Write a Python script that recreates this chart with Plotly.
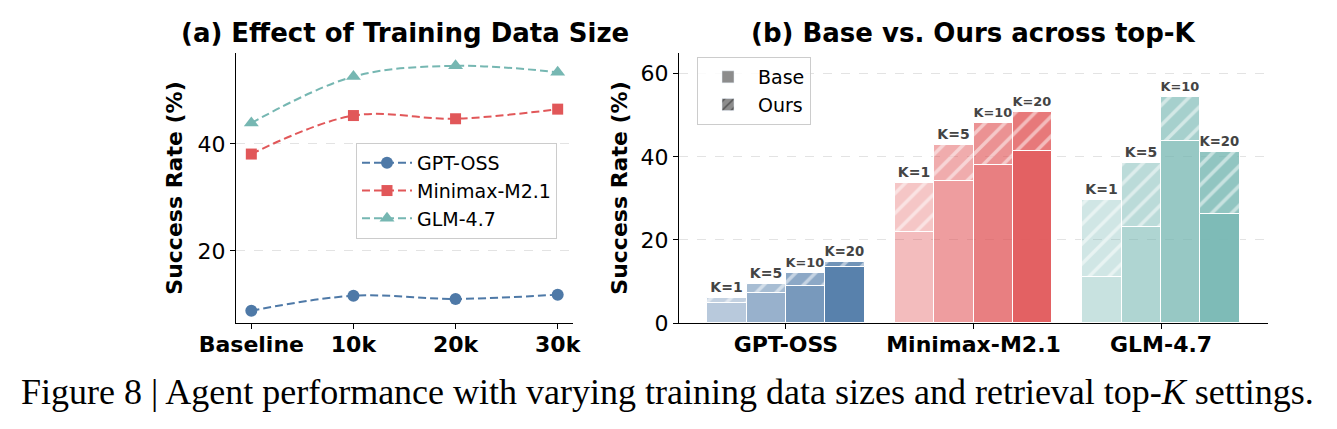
import plotly.graph_objects as go

# ---------- data ----------
sizes = ["Baseline", "10k", "20k", "30k"]
gpt_oss_sizes = [8.8, 11.6, 11.0, 11.8]
minimax_sizes = [38.1, 45.3, 44.7, 46.5]
glm_sizes = [43.9, 52.6, 54.6, 53.4]

models = ["GPT-OSS", "Minimax-M2.1", "GLM-4.7"]
k_labels = ["K=1", "K=5", "K=10", "K=20"]
base_vals = {
    "GPT-OSS": [4.7, 7.2, 8.9, 13.6],
    "Minimax-M2.1": [22.0, 34.3, 38.0, 41.5],
    "GLM-4.7": [11.0, 23.0, 43.7, 26.3],
}
ours_vals = {
    "GPT-OSS": [6.0, 9.4, 12.1, 14.6],
    "Minimax-M2.1": [33.8, 42.9, 48.1, 50.8],
    "GLM-4.7": [29.6, 38.6, 54.4, 41.2],
}

colors = {"GPT-OSS": (78, 121, 167), "Minimax-M2.1": (225, 87, 89), "GLM-4.7": (118, 183, 178)}
alphas = [0.40, 0.58, 0.76, 0.94]
W, H = 1337, 429


def rgba(c, a):
    return f"rgba({c[0]},{c[1]},{c[2]},{a})"


fig = go.Figure()

# ---------- panel (a) ----------
line_specs = [
    ("GPT-OSS", gpt_oss_sizes, "circle", 12),
    ("Minimax-M2.1", minimax_sizes, "square", 11),
    ("GLM-4.7", glm_sizes, "triangle-up", 13),
]
for name, vals, sym, ms in line_specs:
    fig.add_trace(go.Scatter(
        x=list(range(len(sizes))), y=vals, name=name, mode="lines+markers",
        line=dict(color=rgba(colors[name], 1), width=2, dash="8px,4px", shape="spline", smoothing=1.0),
        marker=dict(symbol=sym, size=ms, color=rgba(colors[name], 1)),
        xaxis="x", yaxis="y", legend="legend",
    ))

# ---------- panel (b) ----------
bw = 0.21
nk = len(k_labels)
for gi, m in enumerate(models):
    c = colors[m]
    for ki in range(nk):
        xpos = gi + (ki - (nk - 1) / 2) * bw
        b = base_vals[m][ki]
        o = ours_vals[m][ki]
        fig.add_trace(go.Bar(
            x=[xpos], y=[b], width=bw, xaxis="x2", yaxis="y2",
            marker=dict(color=rgba(c, alphas[ki]), line=dict(color="white", width=1)),
            showlegend=False, hoverinfo="skip",
        ))
        fig.add_trace(go.Bar(
            x=[xpos], y=[o - b], base=[b], width=bw, xaxis="x2", yaxis="y2",
            marker=dict(color=rgba(c, alphas[ki] * 0.85), line=dict(color="white", width=1),
                        pattern=dict(shape="/", fgcolor="white", size=14, solidity=0.25,
                                     fillmode="overlay")),
            showlegend=False, hoverinfo="skip",
            text=[f"<b>{k_labels[ki]}</b>"], textposition="outside",
            textfont=dict(family="DejaVu Sans", size=14, color="#444444"),
            cliponaxis=False,
        ))

# legend entries for (b)
fig.add_trace(go.Bar(x=[None], y=[None], name="Base", xaxis="x2", yaxis="y2",
                     marker=dict(color="#8c8c8c"), legend="legend2"))
fig.add_trace(go.Bar(x=[None], y=[None], name="Ours", xaxis="x2", yaxis="y2",
                     marker=dict(color="#8c8c8c",
                                 pattern=dict(shape="/", fgcolor="#222222", size=8, solidity=0.25,
                                              fillmode="overlay")),
                     legend="legend2"))

ytop = (H - 53) / H
ybot = (H - 323) / H
axis_common = dict(showline=True, linecolor="black", linewidth=1.3, ticks="outside",
                   ticklen=5, tickwidth=1.2, tickcolor="black", zeroline=False, mirror=False,
                   automargin=False)

fig.update_layout(
    width=W, height=H, margin=dict(l=0, r=0, t=0, b=0, pad=0, autoexpand=False),
    paper_bgcolor="white", plot_bgcolor="white",
    barmode="overlay", bargap=0,
    font=dict(family="DejaVu Sans", color="black"),
    xaxis=dict(domain=[236 / W, 573 / W], range=[-0.15, 3.15],
               tickvals=list(range(len(sizes))), ticktext=[f"<b>{s}</b>" for s in sizes],
               tickfont=dict(size=22), showgrid=False, ticklabelstandoff=-4, **axis_common),
    yaxis=dict(domain=[ybot, ytop], range=[6.5, 57], tickvals=[20, 40],
               tickfont=dict(size=22), showgrid=True, gridcolor="#e3e3e3", griddash="dash",
               gridwidth=1,
               title=dict(text="<b>Success Rate (%)</b>", font=dict(size=22), standoff=8),
               **axis_common),
    xaxis2=dict(domain=[679 / W, 1268 / W], range=[-0.57, 2.57], anchor="y2",
                tickvals=list(range(len(models))), ticktext=[f"<b>{m}</b>" for m in models],
                tickfont=dict(size=22), showgrid=False, ticklabelstandoff=-4, **axis_common),
    yaxis2=dict(domain=[ybot, ytop], range=[0, 65], anchor="x2", tickvals=[0, 20, 40, 60],
                tickfont=dict(size=22), showgrid=True, gridcolor="#e3e3e3", griddash="dash",
                gridwidth=1,
                title=dict(text="<b>Success Rate (%)</b>", font=dict(size=22), standoff=6),
                **axis_common),
    legend=dict(x=356 / W, y=(H - 143) / H, xanchor="left", yanchor="top",
                bgcolor="rgba(255,255,255,0.85)", bordercolor="#cccccc", borderwidth=1,
                font=dict(size=19), tracegroupgap=0, itemwidth=50),
    legend2=dict(x=697 / W, y=(H - 57) / H, xanchor="left", yanchor="top",
                 bgcolor="rgba(255,255,255,0.85)", bordercolor="#cccccc", borderwidth=1,
                 font=dict(size=19), tracegroupgap=0, itemwidth=50),
    annotations=[
        dict(text="<b>(a) Effect of Training Data Size</b>", x=(236 + 573) / 2 / W, y=(H - 33) / H,
             xref="paper", yref="paper", showarrow=False, font=dict(size=26), xanchor="center",
             yanchor="middle"),
        dict(text="<b>(b) Base vs. Ours across top-K</b>", x=(679 + 1268) / 2 / W, y=(H - 33) / H,
             xref="paper", yref="paper", showarrow=False, font=dict(size=26), xanchor="center",
             yanchor="middle"),
        dict(text="Figure 8 | Agent performance with varying training data sizes and retrieval top-<i>K</i> settings.",
             x=0.4993, y=(H - 392) / H, xref="paper", yref="paper", showarrow=False,
             font=dict(family="Liberation Serif", size=36), xanchor="center", yanchor="middle"),
    ],
)

fig.write_html("out.html")
